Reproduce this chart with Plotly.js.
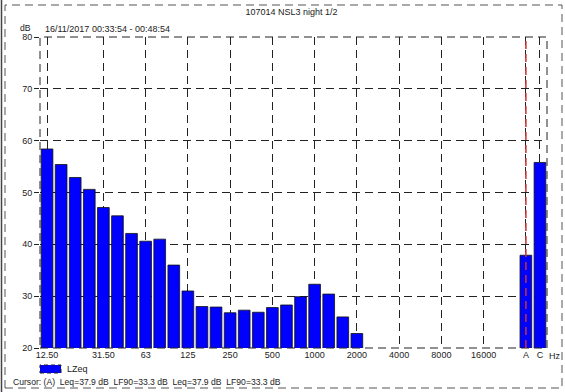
<!DOCTYPE html>
<html>
<head>
<meta charset="utf-8">
<script src="https://cdn.plot.ly/plotly-3.0.1.min.js"></script>
<style>
  html, body { margin: 0; padding: 0; background: #fff; }
  #chart { width: 565px; height: 392px; }
</style>
</head>
<body>
<div id="chart"></div>
<script>
// Third-octave bands, a blank slot, then A and C weighted totals
const bands = ['12.5','16','20','25','31.5','40','50','63','80','100','125','160','200','250','315','400','500','630','800','1000','1250','1600','2000','2500','3150','4000','5000','6300','8000','10000','12500','16000','20000','','A','C'];
const lzeq = [58.4,55.4,52.9,50.6,47.1,45.5,42.1,40.6,41.0,36.0,31.0,28.0,27.9,26.8,27.3,26.9,27.8,28.3,29.9,32.3,30.4,26.0,22.8,null,null,null,null,null,null,null,null,null,null,null,37.9,55.8];
const tickBands = ['12.5','31.5','63','125','250','500','1000','2000','4000','8000','16000','A','C'];
const tickLabels = ['12.50','31.50','63','125','250','500','1000','2000','4000','8000','16000','A','C'];
const yTicks = [20,30,40,50,60,70,80];

const W = 565, H = 392;
const M = {l: 40, r: 18, t: 37, b: 44};
const pw = W - M.l - M.r, ph = H - M.t - M.b;
const px = x => (x - M.l) / pw;
const py = y => (H - M.b - y) / ph;

const xIdx = bands.map((b, i) => i);
const tickIdx = tickBands.map(b => bands.indexOf(b));
const font = {family: 'Liberation Sans, Arial, sans-serif', size: 9, color: '#222'};
const smallFont = {family: 'Liberation Sans, Arial, sans-serif', size: 8.6, color: '#222'};

const trace = {
  type: 'bar',
  x: xIdx,
  y: lzeq,
  name: 'LZeq',
  width: 0.83,
  marker: {color: '#0000ff', line: {color: '#111', width: 0.8}},
  showlegend: false,
  hoverinfo: 'skip'
};

const layout = {
  width: W, height: H,
  margin: M,
  paper_bgcolor: '#fff', plot_bgcolor: '#fff',
  font: font,
  showlegend: false,
  title: {text: '107014 NSL3 night 1/2', font: font, x: 291.5 / W, xanchor: 'center', y: 1 - 12 / H, yanchor: 'middle'},
  xaxis: {
    range: [-0.5, bands.length - 0.5],
    tickmode: 'array', tickvals: tickIdx, ticktext: tickLabels,
    showgrid: true, gridcolor: '#222', gridwidth: 1, griddash: '8px,5px',
    zeroline: false, showline: false, ticks: '',
    tickfont: font, fixedrange: true
  },
  yaxis: {
    range: [20, 80], tickvals: yTicks,
    showgrid: true, gridcolor: '#222', gridwidth: 1, griddash: '8px,5px',
    zeroline: false, showline: false,
    ticks: 'outside', ticklen: 5, tickcolor: '#222', tickwidth: 1,
    tickfont: font, fixedrange: true
  },
  shapes: [
    // plot border
    {type: 'rect', xref: 'paper', yref: 'paper', x0: 0, x1: 1, y0: 0, y1: 1,
     line: {color: '#222', width: 1, dash: '8px,5px'}, layer: 'above'},
    // red cursor line at A
    {type: 'line', xref: 'x', yref: 'paper', x0: bands.indexOf('A'), x1: bands.indexOf('A'), y0: 0, y1: 1,
     line: {color: '#c83232', width: 1.5, dash: '8px,5px'}, layer: 'above'},
    // outer dashed frame
    {type: 'rect', xref: 'paper', yref: 'paper', x0: px(5), x1: px(562), y0: py(388), y1: py(5),
     line: {color: '#555', width: 1, dash: '8px,5px'}},
    // solid left edge
    {type: 'line', xref: 'paper', yref: 'paper', x0: px(1.5), x1: px(1.5), y0: py(392), y1: py(0),
     line: {color: '#444', width: 1.5}},
    // legend swatch
    {type: 'rect', xref: 'paper', yref: 'paper', x0: px(40), x1: px(61), y0: py(373), y1: py(365),
     fillcolor: '#0000ff', line: {color: '#222', width: 1, dash: '4px,3px'}}
  ],
  annotations: [
    {text: 'dB', xref: 'paper', yref: 'paper', x: px(33), y: py(28), xanchor: 'right', yanchor: 'middle', showarrow: false, font: smallFont},
    {text: '16/11/2017 00:33:54 - 00:48:54', xref: 'paper', yref: 'paper', x: px(43), y: py(29), xanchor: 'left', yanchor: 'middle', showarrow: false, font: font},
    {text: 'Hz', xref: 'paper', yref: 'paper', x: px(555), y: py(356), xanchor: 'center', yanchor: 'middle', showarrow: false, font: font},
    {text: 'LZeq', xref: 'paper', yref: 'paper', x: px(65), y: py(369), xanchor: 'left', yanchor: 'middle', showarrow: false, font: font},
    {text: 'Cursor: (A)  Leq=37.9 dB  LF90=33.3 dB  Leq=37.9 dB  LF90=33.3 dB', xref: 'paper', yref: 'paper', x: px(11), y: py(382), xanchor: 'left', yanchor: 'middle', showarrow: false, font: smallFont}
  ]
};

Plotly.newPlot('chart', [trace], layout, {staticPlot: true, displayModeBar: false});
</script>
</body>
</html>
